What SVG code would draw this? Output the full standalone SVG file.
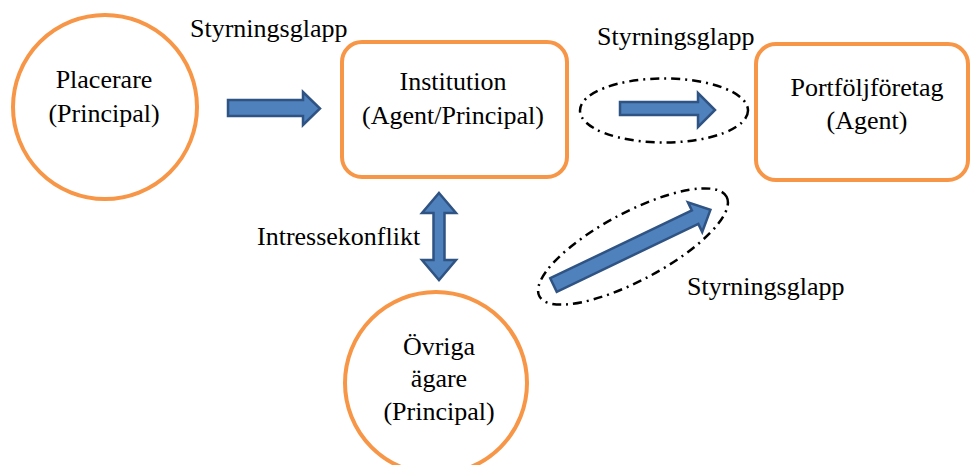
<svg xmlns="http://www.w3.org/2000/svg" width="971" height="465" viewBox="0 0 971 465">
<style>
.node{fill:#fff;stroke:#F79646;stroke-width:4}
text{font-family:'Liberation Serif','Times New Roman',serif;font-size:26px;fill:#000}
.t{text-anchor:middle}
.arr{fill:#4F81BD;stroke:#2F5382;stroke-width:2.5;stroke-linejoin:miter}
.gap{fill:none;stroke:#000;stroke-width:2.5;stroke-dasharray:9 5 2 5}
</style>
<rect width="971" height="465" fill="#fff"/>
<g id="placerare">
<circle class="node" cx="105" cy="107" r="92"/>
<text class="t" x="104" y="88">Placerare</text>
<text class="t" x="104" y="122">(Principal)</text>
</g>
<g id="institution">
<rect class="node" x="342" y="42" width="225" height="135" rx="20"/>
<text class="t" x="453" y="90">Institution</text>
<text class="t" x="453" y="124">(Agent/Principal)</text>
</g>
<g id="portfoljforetag">
<rect class="node" x="756" y="44" width="212" height="136" rx="20"/>
<text class="t" x="867" y="96">Portföljföretag</text>
<text class="t" x="867" y="129">(Agent)</text>
</g>
<g id="ovriga">
<circle class="node" cx="436" cy="383" r="91"/>
<text class="t" x="439" y="355">Övriga</text>
<text class="t" x="439" y="387">ägare</text>
<text class="t" x="439" y="420">(Principal)</text>
</g>
<g id="connectors">
<polygon class="arr" points="228,100 303,100 303,92 320,108.5 303,125 303,116 228,116"/>
<ellipse class="gap" cx="664" cy="110.5" rx="84" ry="32"/>
<polygon class="arr" points="620,102 698,102 698,93 715,110 698,127 698,115 620,115"/>
<polygon class="arr" points="439,193 456,213 444.5,213 444.5,260 456,260 439,280 422,260 433.5,260 433.5,213 422,213"/>
<ellipse class="gap" cx="633" cy="246.5" rx="106" ry="34" transform="rotate(-28 633 246.5)"/>
<polygon class="arr" transform="translate(553.5,285) rotate(-25.6)" points="0,-7.5 157,-7.5 157,-16.5 174,0 157,16.5 157,7.5 0,7.5"/>
<text x="190" y="37">Styrningsglapp</text>
<text x="597" y="45">Styrningsglapp</text>
<text x="257" y="245">Intressekonflikt</text>
<text x="687" y="295">Styrningsglapp</text>
</g>
</svg>
